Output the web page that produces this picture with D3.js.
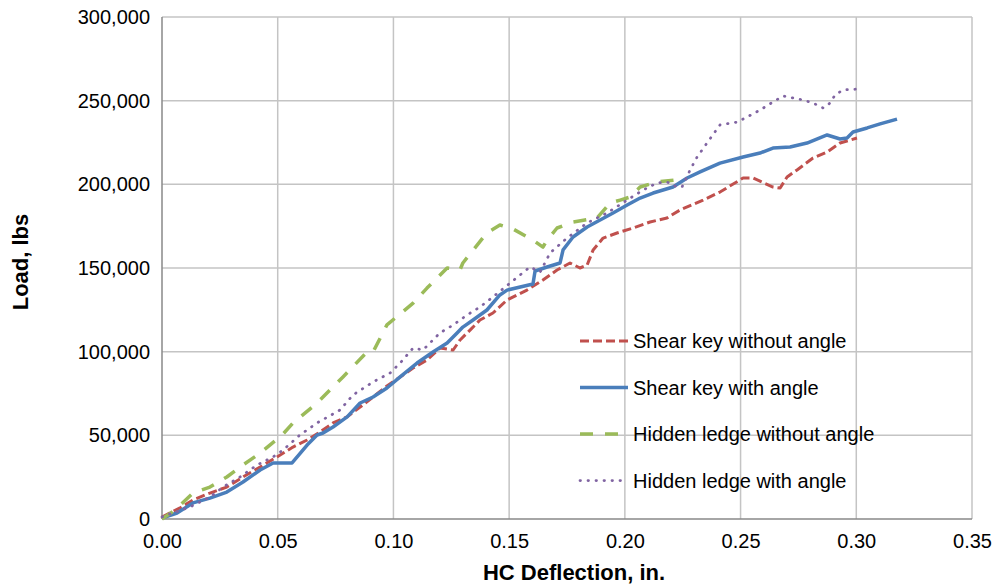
<!DOCTYPE html>
<html>
<head>
<meta charset="utf-8">
<script src="https://cdn.jsdelivr.net/npm/d3@7"></script>
<style>
  body { margin: 0; background: #fff; overflow: hidden; }
  svg { display: block; }
  text { font-family: "Liberation Sans", Arial, sans-serif; fill: #000; }
  .grid line { stroke: #c4c4c4; stroke-width: 1.5; }
  .axis-line { stroke: #898989; stroke-width: 1.5; }
  .axis-label { font-size: 22px; font-weight: bold; }
  .legend-ui { font-size: 20px; }
</style>
</head>
<body>
<svg id="chart" width="1000" height="586"></svg>
<script>
// x = HC deflection (in.), y = load (lbs)
const shearKeyNoAngleX = [0, 0.0078, 0.0134, 0.0207, 0.028, 0.035, 0.0424, 0.0497, 0.0566, 0.0627, 0.0683, 0.0739, 0.08, 0.0856, 0.0912, 0.0972, 0.1029, 0.1085, 0.1145, 0.1201, 0.1258, 0.1288, 0.1331, 0.1374, 0.143, 0.1491, 0.1577, 0.1646, 0.1707, 0.1763, 0.1806, 0.1837, 0.1863, 0.1906, 0.1966, 0.2035, 0.2109, 0.2182, 0.2239, 0.2338, 0.2411, 0.2511, 0.2554, 0.264, 0.2671, 0.2701, 0.2744, 0.2813, 0.2874, 0.293, 0.3003];
const shearKeyNoAngleY = [1200, 6600, 11400, 15500, 19100, 25100, 31100, 37100, 43000, 47200, 52000, 57400, 61000, 66900, 72900, 79500, 84900, 90200, 95000, 102200, 101000, 107000, 112900, 118900, 123100, 130900, 136800, 142800, 148800, 153000, 150000, 151800, 160800, 167900, 170900, 173900, 177500, 179900, 184700, 190600, 195400, 203800, 203800, 198400, 197800, 204400, 208600, 215700, 219300, 224700, 227700];

const shearKeyAngleX = [0, 0.0065, 0.0134, 0.0207, 0.028, 0.035, 0.0424, 0.048, 0.0562, 0.0627, 0.067, 0.0696, 0.0739, 0.08, 0.0856, 0.0912, 0.0972, 0.1029, 0.1102, 0.1171, 0.1232, 0.1275, 0.13, 0.1344, 0.1404, 0.146, 0.1491, 0.1603, 0.1612, 0.1664, 0.172, 0.1733, 0.1776, 0.1837, 0.1893, 0.1949, 0.201, 0.2066, 0.2122, 0.2208, 0.2269, 0.2325, 0.2411, 0.2511, 0.2584, 0.264, 0.2714, 0.2787, 0.2874, 0.293, 0.296, 0.2986, 0.3047, 0.3103, 0.3176];
const shearKeyAngleY = [600, 3600, 9600, 12500, 16100, 22100, 29300, 33500, 33500, 44200, 50200, 51400, 55000, 61000, 69300, 72900, 78300, 84900, 93200, 99800, 105200, 111200, 114700, 118900, 124900, 133900, 136800, 140400, 148200, 150600, 153000, 160800, 168500, 174500, 178700, 182900, 187600, 191800, 194800, 198400, 203800, 207400, 212700, 216300, 218700, 221700, 222300, 224700, 229500, 227100, 227700, 231300, 233700, 236100, 239000];

const hiddenLedgeNoAngleX = [0, 0.0056, 0.0134, 0.0207, 0.028, 0.035, 0.0424, 0.0519, 0.0566, 0.067, 0.0782, 0.0886, 0.0912, 0.0972, 0.1085, 0.1145, 0.1232, 0.1288, 0.13, 0.1404, 0.146, 0.1517, 0.1603, 0.1646, 0.1664, 0.1707, 0.1776, 0.188, 0.1936, 0.198, 0.2022, 0.2066, 0.2139, 0.2217];
const hiddenLedgeNoAngleY = [0, 5400, 15500, 19100, 25100, 32300, 39400, 50200, 57400, 69300, 84900, 99800, 99800, 116000, 129000, 138000, 150000, 149000, 153000, 171000, 175700, 173300, 166700, 162500, 166700, 173900, 177500, 179900, 188800, 190600, 192400, 198400, 201400, 202600];

const hiddenLedgeAngleX = [0, 0.0022, 0.0121, 0.0207, 0.0264, 0.0337, 0.0411, 0.048, 0.0523, 0.0596, 0.067, 0.0769, 0.0825, 0.0912, 0.0985, 0.1029, 0.1085, 0.1128, 0.1158, 0.1201, 0.1258, 0.1318, 0.1374, 0.143, 0.1504, 0.1547, 0.159, 0.1634, 0.1677, 0.175, 0.1837, 0.1923, 0.201, 0.2079, 0.2139, 0.2182, 0.2226, 0.2247, 0.2282, 0.2312, 0.2355, 0.2411, 0.2485, 0.2528, 0.2584, 0.264, 0.2684, 0.277, 0.2813, 0.2857, 0.2887, 0.2908, 0.2943, 0.3016];
const hiddenLedgeAngleY = [1200, 2400, 7200, 13100, 19100, 25100, 32300, 37100, 41200, 50200, 57400, 65100, 74100, 81900, 87200, 93200, 102200, 101000, 105200, 111200, 115900, 121900, 126700, 132700, 141000, 145800, 150600, 147600, 159000, 167900, 176900, 182900, 190600, 196600, 200800, 201400, 198400, 198400, 208600, 216300, 224700, 235500, 237200, 240200, 244400, 249200, 252800, 250400, 248600, 245600, 248600, 253400, 256400, 257000];

const seriesNames = ["Shear key without angle", "Shear key with angle", "Hidden ledge without angle", "Hidden ledge with angle"];
const xTicks = [0, 0.05, 0.10, 0.15, 0.20, 0.25, 0.30, 0.35];
const yTicks = [0, 50000, 100000, 150000, 200000, 250000, 300000];

const zip = (xs, ys) => xs.map((x, i) => ({ x: x, y: ys[i] }));
const series = [
    { name: seriesNames[0], values: zip(shearKeyNoAngleX, shearKeyNoAngleY), color: "#c0504d", width: 3, dash: "9,4", cap: "butt" },
    { name: seriesNames[1], values: zip(shearKeyAngleX, shearKeyAngleY), color: "#4a7ebb", width: 3.5, dash: null, cap: "butt" },
    { name: seriesNames[2], values: zip(hiddenLedgeNoAngleX, hiddenLedgeNoAngleY), color: "#9bbb59", width: 3.5, dash: "13,12", cap: "butt" },
    { name: seriesNames[3], values: zip(hiddenLedgeAngleX, hiddenLedgeAngleY), color: "#8064a2", width: 2.75, dash: "0.5,7.5", cap: "round" }
];

const padding = { top: 17, right: 28, bottom: 67, left: 162 };
const width = 1000, height = 586;
const innerWidth = width - padding.left - padding.right;
const innerHeight = height - padding.top - padding.bottom;

const svg = d3.select("#chart")
    .append("g")
    .attr("transform", `translate(${padding.left}, ${padding.top})`);

const x = d3.scaleLinear().domain([0, 0.35]).range([0, innerWidth]);
const y = d3.scaleLinear().domain([0, 300000]).range([innerHeight, 0]);

// gridlines
const grid = svg.append("g").attr("class", "grid");
grid.selectAll(".gx").data(xTicks.slice(1)).enter().append("line")
    .attr("x1", d => x(d)).attr("x2", d => x(d))
    .attr("y1", 0).attr("y2", innerHeight);
grid.selectAll(".gy").data(yTicks.slice(1)).enter().append("line")
    .attr("x1", 0).attr("x2", innerWidth)
    .attr("y1", d => y(d)).attr("y2", d => y(d));

// axes, drawn with d3 axes but tick marks hidden
const xAxis = svg.append("g")
    .attr("transform", `translate(0,${innerHeight})`)
    .call(d3.axisBottom(x).tickValues(xTicks).tickFormat(d3.format(".2f")).tickSize(0).tickPadding(15));
const yAxis = svg.append("g")
    .call(d3.axisLeft(y).tickValues(yTicks).tickFormat(d3.format(",")).tickSize(0).tickPadding(12));

[xAxis, yAxis].forEach(a => {
    a.attr("font-size", 20).attr("font-family", "Liberation Sans, Arial, sans-serif");
    a.select(".domain").remove();
    a.selectAll(".tick text").attr("fill", "#000");
});
xAxis.selectAll(".tick text").attr("dy", "0.71em");

svg.append("line").attr("class", "axis-line")
    .attr("x1", 0).attr("x2", 0).attr("y1", 0).attr("y2", innerHeight);
svg.append("line").attr("class", "axis-line")
    .attr("x1", 0).attr("x2", innerWidth).attr("y1", innerHeight).attr("y2", innerHeight);

// lines
const line = d3.line().x(d => x(d.x)).y(d => y(d.y));
svg.selectAll(".series").data(series).enter().append("path")
    .attr("class", "series")
    .attr("d", d => line(d.values))
    .attr("fill", "none")
    .attr("stroke", d => d.color)
    .attr("stroke-width", d => d.width)
    .attr("stroke-dasharray", d => d.dash)
    .attr("stroke-linecap", d => d.cap)
    .attr("stroke-linejoin", "round");

// axis titles
svg.append("text")
    .attr("class", "axis-label")
    .attr("x", 412)
    .attr("y", innerHeight + 61)
    .attr("text-anchor", "middle")
    .text("HC Deflection, in.");
svg.append("text")
    .attr("class", "axis-label")
    .attr("transform", `translate(-134,${245})rotate(-90)`)
    .attr("text-anchor", "middle")
    .text("Load, lbs");

// legend
const legend = svg.append("g").attr("transform", `translate(${580 - padding.left},${341 - padding.top})`);
const item = legend.selectAll(".item").data(series).enter().append("g")
    .attr("transform", (d, i) => `translate(0,${i * 46.5})`);
item.append("line")
    .attr("x1", 0).attr("x2", 48).attr("y1", 0).attr("y2", 0)
    .attr("stroke", d => d.color)
    .attr("stroke-width", d => d.width)
    .attr("stroke-dasharray", d => d.dash)
    .attr("stroke-linecap", d => d.cap);
item.append("text")
    .attr("class", "legend-ui")
    .attr("x", 53)
    .attr("dy", "0.35em")
    .text(d => d.name);
</script>
</body>
</html>
